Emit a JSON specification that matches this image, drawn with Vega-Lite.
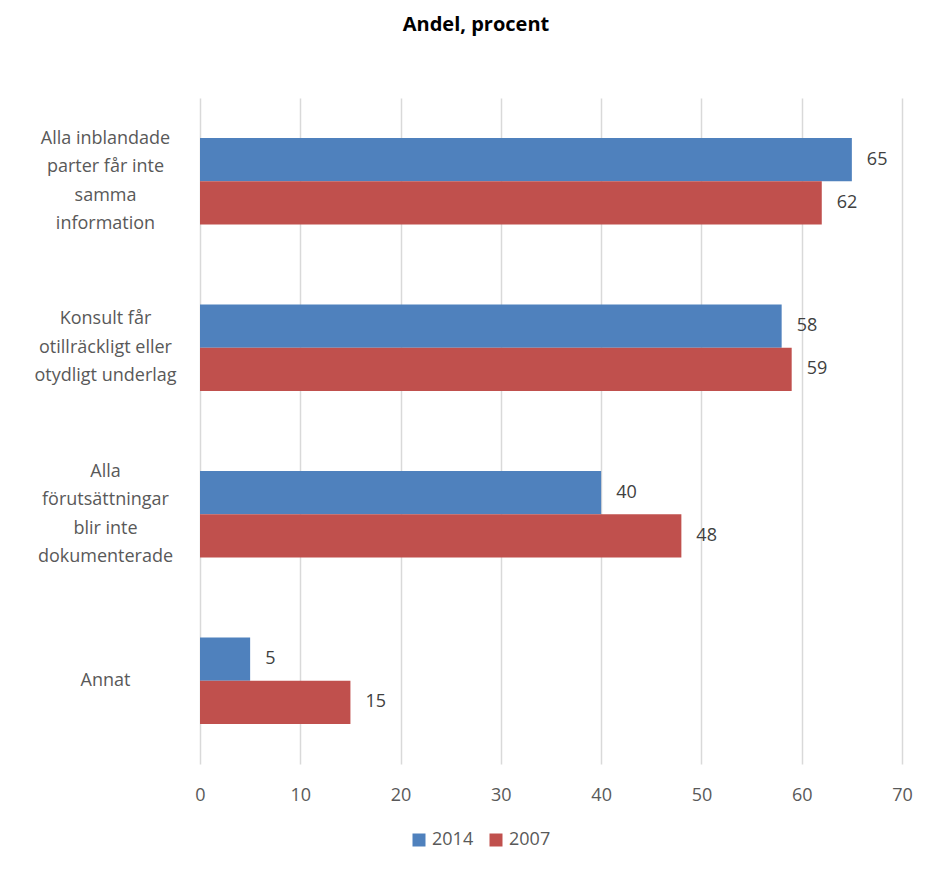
{
  "$schema": "https://vega.github.io/schema/vega-lite/v6.json",
  "autosize": {"type": "none"},
  "padding": {"left": 200, "top": 98, "right": 26, "bottom": 106},
  "width": 702,
  "height": 666,
  "background": "white",
  "title": {
    "text": "Andel, procent",
    "fontSize": 20,
    "fontWeight": "bold",
    "font": "Open Sans, sans-serif",
    "color": "#000000",
    "anchor": "middle",
    "dx": -75,
    "offset": 63
  },
  "data": {
    "values": [
      {"kategori": "Alla inblandade\nparter får inte\nsamma\ninformation", "år": "2014", "andel": 65},
      {"kategori": "Alla inblandade\nparter får inte\nsamma\ninformation", "år": "2007", "andel": 62},
      {"kategori": "Konsult får\notillräckligt eller\notydligt underlag", "år": "2014", "andel": 58},
      {"kategori": "Konsult får\notillräckligt eller\notydligt underlag", "år": "2007", "andel": 59},
      {"kategori": "Alla\nförutsättningar\nblir inte\ndokumenterade", "år": "2014", "andel": 40},
      {"kategori": "Alla\nförutsättningar\nblir inte\ndokumenterade", "år": "2007", "andel": 48},
      {"kategori": "Annat", "år": "2014", "andel": 5},
      {"kategori": "Annat", "år": "2007", "andel": 15}
    ]
  },
  "encoding": {
    "y": {
      "field": "kategori",
      "type": "nominal",
      "sort": null,
      "scale": {"paddingInner": 0.48, "paddingOuter": 0.24},
      "axis": {
        "title": null,
        "domain": false,
        "ticks": false,
        "tickSize": 0,
        "labelPadding": 95,
        "labelAlign": "center",
        "labelBaseline": "middle",
        "labelLineHeight": 28.5,
        "labelExpr": "split(datum.label, '\\n')",
        "labelOffset": {
          "condition": [
            {"test": "length(split(datum.value, '\\n')) == 4", "value": -42.75},
            {"test": "length(split(datum.value, '\\n')) == 3", "value": -28.5}
          ],
          "value": 0
        },
        "labelFontSize": 18,
        "labelColor": "#595959",
        "labelFont": "Open Sans, sans-serif",
        "grid": false
      }
    },
    "yOffset": {"field": "år", "type": "nominal", "sort": ["2014", "2007"]},
    "x": {
      "field": "andel",
      "type": "quantitative",
      "scale": {"domain": [0, 70], "nice": false},
      "axis": {
        "title": null,
        "values": [0, 10, 20, 30, 40, 50, 60, 70],
        "domain": false,
        "ticks": false,
        "tickSize": 0,
        "labelPadding": 22,
        "labelFlush": false,
        "labelFontSize": 18,
        "labelColor": "#595959",
        "labelFont": "Open Sans, sans-serif",
        "grid": true,
        "gridColor": "#D9D9D9",
        "gridWidth": 1.5
      }
    }
  },
  "layer": [
    {
      "mark": {"type": "bar"},
      "encoding": {
        "color": {
          "field": "år",
          "type": "nominal",
          "scale": {"domain": ["2014", "2007"], "range": ["#4F81BD", "#C0504D"]},
          "legend": {
            "title": null,
            "orient": "none",
            "direction": "horizontal",
            "legendX": 210,
            "legendY": 733,
            "symbolType": "square",
            "symbolSize": 169,
            "symbolStrokeWidth": 0,
            "columnPadding": 13,
            "labelFontSize": 18,
            "labelColor": "#595959",
            "labelFont": "Open Sans, sans-serif",
            "labelOffset": 4
          }
        }
      }
    },
    {
      "mark": {
        "type": "text",
        "align": "left",
        "baseline": "middle",
        "dx": 15,
        "fontSize": 18,
        "color": "#404040",
        "font": "Open Sans, sans-serif"
      },
      "encoding": {
        "text": {"field": "andel", "type": "quantitative"}
      }
    }
  ],
  "config": {
    "view": {"stroke": null}
  }
}
